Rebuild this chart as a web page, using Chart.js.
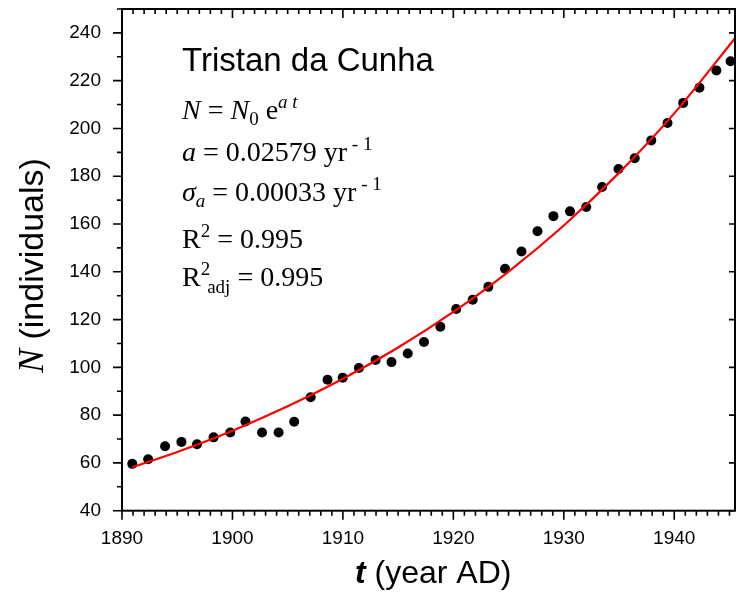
<!DOCTYPE html>
<html>
<head>
<meta charset="utf-8">
<script src="https://cdn.jsdelivr.net/npm/chart.js@4.4.0/dist/chart.umd.min.js"></script>
<style>
    html, body { margin: 0; padding: 0; background: #fff; overflow: hidden; }
    #wrap { width: 740px; height: 602px; }
</style>
</head>
<body>
<div id="wrap"><canvas id="growth-chart"></canvas></div>
<script>
// Census counts
const years = [1890.93, 1892.37, 1893.9, 1895.38, 1896.79, 1898.29, 1899.8, 1901.18, 1902.68, 1904.18,
    1905.59, 1907.08, 1908.61, 1909.98, 1911.45, 1912.96, 1914.4, 1915.87, 1917.34, 1918.82,
    1920.26, 1921.75, 1923.17, 1924.68, 1926.17, 1927.62, 1929.06, 1930.56, 1932.03, 1933.47,
    1934.95, 1936.42, 1937.92, 1939.39, 1940.81, 1942.28, 1943.81, 1945.1];
const population = [59.6, 61.5, 67, 68.8, 67.8, 70.7, 72.7, 77.3, 72.7, 72.7,
    77.2, 87.5, 94.8, 95.7, 99.7, 103.1, 102.2, 105.8, 110.6, 117,
    124.4, 128.3, 133.7, 141.3, 148.5, 157, 163.3, 165.3, 167.1, 175.5,
    183, 187.5, 195, 202.3, 210.7, 217, 224.3, 228.1];

// Red fit curve
const fitYears = [1890.93, 1895, 1900, 1905, 1910, 1915, 1920, 1925, 1930, 1935, 1940, 1945.5];
const fitValues = [58.2, 64.6, 73.5, 83.7, 95.2, 108.3, 123.2, 140.1, 159.4, 181.4, 206.3, 237.8];

const xTicks = [1890, 1900, 1910, 1920, 1930, 1940];
const yTicks = [40, 60, 80, 100, 120, 140, 160, 180, 200, 220, 240];

const SANS = "'Liberation Sans', Arial, sans-serif";
const SERIF = "'Liberation Serif', 'Times New Roman', serif";

// draw a row of text pieces with their own font and baseline shift
function drawRuns(ctx, x, y, runs) {
    let cx = x;
    runs.forEach(r => {
        ctx.font = r.f;
        cx += r.dx || 0;
        ctx.fillText(r.t, cx, y + (r.dy || 0));
        cx += ctx.measureText(r.t).width;
    });
    return cx - x;
}

const big = `28px ${SERIF}`;
const bigI = `italic 28px ${SERIF}`;
const small = `19px ${SERIF}`;
const smallI = `italic 19px ${SERIF}`;

const frameAndText = {
    id: 'frameAndText',
    afterDraw(chart) {
        const { ctx, chartArea: a, scales: { x, y } } = chart;
        ctx.save();
        ctx.strokeStyle = '#000';
        ctx.fillStyle = '#000';

        // frame
        ctx.lineWidth = 2;
        ctx.strokeRect(a.left, a.top, a.right - a.left, a.bottom - a.top);

        // tick marks: bottom/left outward, top/right inward
        ctx.lineWidth = 1.6;
        ctx.beginPath();
        for (let v = Math.ceil(x.min); v <= x.max; v++) {
            const px = x.getPixelForValue(v);
            const len = v % 10 === 0 ? 9 : 5;
            ctx.moveTo(px, a.bottom); ctx.lineTo(px, a.bottom + len);
            ctx.moveTo(px, a.top); ctx.lineTo(px, a.top + len);
        }
        for (let v = y.min; v <= y.max; v += 10) {
            const py = y.getPixelForValue(v);
            const major = v % 20 === 0;
            ctx.moveTo(a.left, py); ctx.lineTo(a.left - (major ? 9 : 5), py);
            if (major) { ctx.moveTo(a.right, py); ctx.lineTo(a.right - 6, py); }
        }
        ctx.stroke();

        ctx.textAlign = 'left';
        ctx.textBaseline = 'alphabetic';

        // axis titles
        drawRuns(ctx, 355, 583, [
            { t: 't', f: `italic bold 32px ${SANS}` },
            { t: ' (year AD)', f: `32px ${SANS}` },
        ]);

        ctx.save();
        ctx.translate(43, 373);
        ctx.rotate(-Math.PI / 2);
        drawRuns(ctx, 0, 0, [
            { t: 'N', f: `italic 36px ${SERIF}` },
            { t: ' (individuals)', f: `34px ${SANS}` },
        ]);
        ctx.restore();

        // annotation block
        ctx.font = `33px ${SANS}`;
        ctx.fillText('Tristan da Cunha', 182, 71);

        drawRuns(ctx, 182, 119, [
            { t: 'N', f: bigI }, { t: ' = ', f: big }, { t: 'N', f: bigI },
            { t: '0', f: small, dy: 6 }, { t: ' e', f: big }, { t: 'a t', f: smallI, dy: -11 },
        ]);
        drawRuns(ctx, 182, 161, [
            { t: 'a', f: bigI }, { t: ' = 0.02579 yr', f: big }, { t: ' - 1', f: small, dy: -11 },
        ]);
        drawRuns(ctx, 182, 201, [
            { t: 'σ', f: bigI }, { t: 'a', f: smallI, dy: 6 },
            { t: ' = 0.00033 yr', f: big }, { t: ' - 1', f: small, dy: -11 },
        ]);
        drawRuns(ctx, 182, 248, [
            { t: 'R', f: big }, { t: '2', f: small, dy: -11 }, { t: ' = 0.995', f: big },
        ]);
        drawRuns(ctx, 182, 286, [
            { t: 'R', f: big }, { t: '2', f: small, dy: -11 },
            { t: 'adj', f: small, dy: 7, dx: -3 }, { t: ' = 0.995', f: big },
        ]);
        ctx.restore();
    }
};

function renderGrowthChart() {
    const ctx = document.getElementById('growth-chart').getContext('2d');

    const options = {
        responsive: true,
        maintainAspectRatio: false,
        animation: false,
        devicePixelRatio: 1,
        layout: { padding: { left: 0, right: 2.3, top: 9, bottom: 0 } },
        plugins: {
            legend: { display: false },
            tooltip: { enabled: false },
        },
        scales: {
            x: {
                type: 'linear',
                min: 1890,
                max: 1945.5,
                grid: { display: false, drawTicks: false },
                border: { display: false },
                afterBuildTicks: scale => { scale.ticks = xTicks.map(v => ({ value: v })); },
                afterFit: scale => {
                    scale.height = 91.3;
                    scale.paddingLeft = 0;
                    scale.paddingRight = 0;
                },
                ticks: {
                    color: '#000',
                    padding: 17,
                    maxRotation: 0,
                    font: { family: SANS, size: 19 },
                    callback: v => String(v),
                },
            },
            y: {
                min: 40,
                max: 250,
                grid: { display: false, drawTicks: false },
                border: { display: false },
                afterBuildTicks: scale => { scale.ticks = yTicks.map(v => ({ value: v })); },
                afterFit: scale => {
                    scale.width = 122;
                    scale.paddingTop = 0;
                    scale.paddingBottom = 0;
                },
                ticks: {
                    color: '#000',
                    padding: 21,
                    font: { family: SANS, size: 19 },
                },
            },
        },
    };

    new Chart(ctx, {
        type: 'scatter',
        data: {
            datasets: [
                {
                    label: 'fit',
                    data: fitYears.map((t, i) => ({ x: t, y: fitValues[i] })),
                    showLine: true,
                    borderColor: '#ff0000',
                    borderWidth: 2.2,
                    pointRadius: 0,
                    cubicInterpolationMode: 'monotone',
                },
                {
                    label: 'N',
                    data: years.map((t, i) => ({ x: t, y: population[i] })),
                    backgroundColor: '#000',
                    borderWidth: 0,
                    pointRadius: 5,
                },
            ],
        },
        options,
        plugins: [frameAndText],
    });
}

renderGrowthChart();
</script>
</body>
</html>
